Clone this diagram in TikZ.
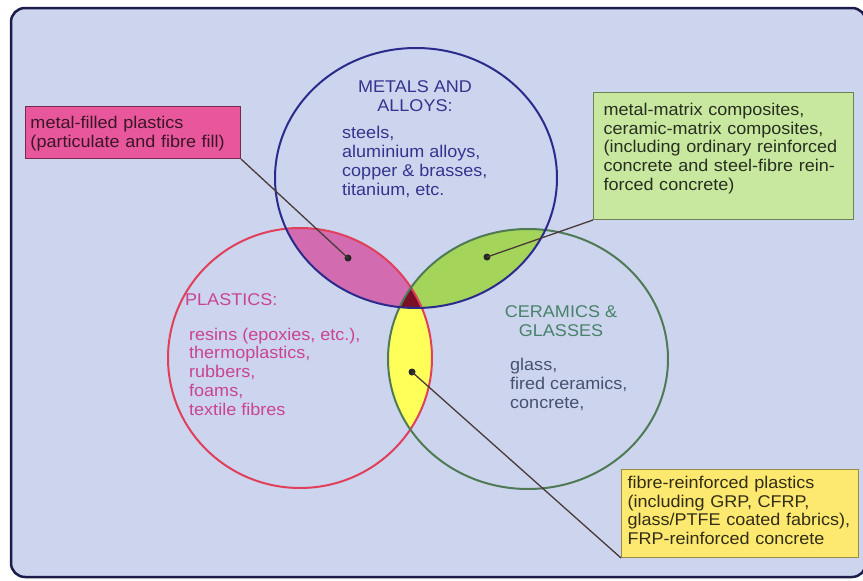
\documentclass[tikz,border=0pt]{standalone}
\usepackage{fontspec}
\setmainfont{Liberation Sans}[FakeStretch=1.06]
\definecolor{bgfill}{HTML}{CDD4EE}
\definecolor{bgline}{HTML}{1C1C4A}
\definecolor{metalline}{HTML}{2B2B8C}
\definecolor{metaltext}{HTML}{34348E}
\definecolor{plasticline}{HTML}{E0405A}
\definecolor{plastictext}{HTML}{C94492}
\definecolor{ceramicline}{HTML}{4E7A55}
\definecolor{ceramichead}{HTML}{48826A}
\definecolor{ceramictext}{HTML}{44526F}
\definecolor{pinklens}{HTML}{D26BB0}
\definecolor{greenlens}{HTML}{A4D45A}
\definecolor{yellowlens}{HTML}{FFFF5A}
\definecolor{triple}{HTML}{7A1028}
\definecolor{pinkbox}{HTML}{E8579C}
\definecolor{greenbox}{HTML}{C8E8A0}
\definecolor{yellowbox}{HTML}{FDE870}
\definecolor{leader}{HTML}{4A3A38}
\newcommand{\metalset}{(416,178) ellipse [x radius=141pt, y radius=130pt]}
\newcommand{\plasticset}{(300,358) ellipse [x radius=132pt, y radius=130pt]}
\newcommand{\ceramicset}{(528,359) ellipse [x radius=140pt, y radius=130pt]}
\tikzset{
  every node/.style={font=\fontsize{17}{18.7}\selectfont, inner sep=0pt},
  setline/.style={line width=2pt},
  note/.style={draw, line width=1pt, anchor=north west, align=left},
  dot/.style={circle, fill=black!85, minimum size=7pt},
  link/.style={draw=leader, line width=1.3pt}
}
\begin{document}
\begin{tikzpicture}[x=1pt,y=-1pt]
  \useasboundingbox (0,0) rectangle (863,581);
  \fill[white] (0,0) rectangle (863,581);
  \draw[bgline, fill=bgfill, line width=2.5pt, rounded corners=14pt] (11,8) rectangle (866,577);
  \begin{scope}
    \clip \metalset;
    \fill[pinklens] \plasticset;
    \fill[greenlens] \ceramicset;
  \end{scope}
  \begin{scope}
    \clip \plasticset;
    \fill[yellowlens] \ceramicset;
  \end{scope}
  \begin{scope}
    \clip \metalset;
    \clip \plasticset;
    \fill[triple] \ceramicset;
  \end{scope}
  \draw[setline, plasticline] \plasticset;
  \draw[setline, ceramicline] \ceramicset;
  \draw[setline, metalline] \metalset;
  \node[metaltext, align=center, anchor=base] (mhead) at (415,111) {METALS AND\\ALLOYS:};
  \node[metaltext, align=left, anchor=base west] (mlist) at (342,195)
    {steels,\\aluminium alloys,\\copper \& brasses,\\titanium, etc.};
  \node[plastictext, anchor=base west] (phead) at (185,305.5) {PLASTICS:};
  \node[plastictext, align=left, anchor=base west] (plist) at (189,415)
    {resins (epoxies, etc.),\\thermoplastics,\\rubbers,\\foams,\\textile fibres};
  \node[ceramichead, align=center, anchor=base] (chead) at (561,336) {CERAMICS \&\\GLASSES};
  \node[ceramictext, align=left, anchor=base west] (clist) at (510,408)
    {glass,\\fired ceramics,\\concrete,};
  \node[note, fill=pinkbox, draw=pinkbox!50!black, text=pinkbox!25!black,
    text width=205pt, inner xsep=5pt, inner ysep=6pt, text height=16pt, text depth=24pt]
    (pbox) at (25,106) {metal-filled plastics\\(particulate and fibre fill)};
  \node[note, fill=greenbox, draw=greenbox!55!black, text=greenbox!20!black,
    text width=240pt, inner xsep=10pt, inner ysep=8pt, text height=15pt, text depth=96pt]
    (gbox) at (593,92) {metal-matrix composites,\\ceramic-matrix composites,\\(including ordinary reinforced\\concrete and steel-fibre rein-\\forced concrete)};
  \node[note, fill=yellowbox, draw=yellowbox!60!black, text=yellowbox!20!black,
    text width=225pt, inner xsep=6pt, inner ysep=6pt, text height=13pt, text depth=63pt]
    (ybox) at (621,469) {fibre-reinforced plastics\\(including GRP, CFRP,\\glass/PTFE coated fabrics),\\FRP-reinforced concrete};
  \node[dot] (pdot) at (348,258) {};
  \node[dot] (gdot) at (487,257) {};
  \node[dot] (ydot) at (412,372) {};
  \begin{scope}[link]
    \draw (pbox.south east) to (pdot.center);
    \draw (gbox.south west) to (gdot.center);
    \draw (ybox.south west) to (ydot.center);
  \end{scope}
\end{tikzpicture}
\end{document}
